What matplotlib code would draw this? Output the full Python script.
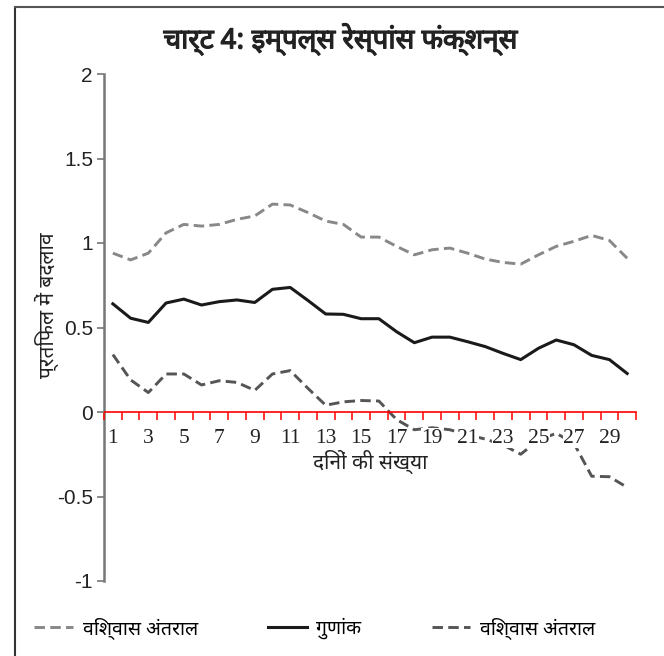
import matplotlib
matplotlib.use('Agg')
import matplotlib.pyplot as plt
import matplotlib.patheffects as pe
import numpy as np
from matplotlib import font_manager
from matplotlib.ft2font import FT2Font
from matplotlib.lines import Line2D

# data
days = np.arange(1, 31)
upper = [0.94, 0.90, 0.94, 1.06, 1.11, 1.10, 1.11, 1.14, 1.16, 1.23,
         1.225, 1.18, 1.13, 1.11, 1.035, 1.035, 0.98, 0.93, 0.96, 0.97,
         0.94, 0.905, 0.885, 0.875, 0.93, 0.98, 1.01, 1.045, 1.015, 0.91]
coef = [0.64, 0.555, 0.53, 0.645, 0.668, 0.633, 0.653, 0.663, 0.648, 0.726,
        0.737, 0.66, 0.58, 0.578, 0.552, 0.552, 0.475, 0.41, 0.443, 0.443,
        0.416, 0.387, 0.347, 0.31, 0.377, 0.426, 0.398, 0.335, 0.31, 0.228]
lower = [0.34, 0.19, 0.115, 0.225, 0.225, 0.16, 0.185, 0.175, 0.128, 0.225,
         0.245, 0.14, 0.04, 0.06, 0.068, 0.065, -0.045, -0.105, -0.093, -0.105,
         -0.135, -0.16, -0.195, -0.25, -0.166, -0.126, -0.185, -0.38, -0.383, -0.446]
xticklabels = [str(d) for d in days[::2]]
yticks = [-1, -0.5, 0, 0.5, 1, 1.5, 2]
yticklabels = ['-1', '-0.5', '0', '0.5', '1', '1.5', '2']

title = 'चार्ट 4: इम्पल्स रेस्पांस फंक्शन्स'
ylabel = 'प्रतिफल में बदलाव'
xlabel = 'दिनों की संख्या'
names = ['विश्वास अंतराल', 'गुणांक', 'विश्वास अंतराल']


def find_deva():
    found = []
    for f in font_manager.fontManager.ttflist:
        try:
            if 0x0915 in FT2Font(f.fname).get_charmap():
                found.append(f.name)
        except Exception:
            pass
    for pref in ['Noto Sans Devanagari', 'Lohit Devanagari', 'Mukta', 'Hind',
                 'FreeSans', 'Gargi', 'Kalimati']:
        if pref in found:
            return pref
    return found[0] if found else None


deva = find_deva()
hfam = [deva, 'DejaVu Sans'] if deva else ['DejaVu Sans']

fig = plt.figure(figsize=(6.64, 6.56), dpi=100)
ax = fig.add_axes([104 / 664, 1 - 581 / 656, 532 / 664, 507 / 656])

dash = (0, (3.6, 1.8))
ax.plot(days, upper, color='#888888', lw=2.1, ls=dash, label=names[0])
ax.plot(days, coef, color='#1a1a1a', lw=2.2, label=names[1])
ax.plot(days, lower, color='#555555', lw=2.1, ls=dash, label=names[2])

ax.set_xlim(0.5, 30.5)
ax.set_ylim(-1, 2)
ax.set_axisbelow(False)

for s in ['top', 'right']:
    ax.spines[s].set_visible(False)
ax.spines['left'].set_color('#777777')
ax.spines['left'].set_linewidth(1.8)
ax.spines['bottom'].set_position(('data', 0))
ax.spines['bottom'].set_color('red')
ax.spines['bottom'].set_linewidth(1.2)

ax.set_yticks(yticks)
ax.set_yticklabels(yticklabels, family=['Liberation Sans Narrow', 'Liberation Sans'],
                   fontsize=15, color='#222222')
ax.tick_params(axis='y', direction='out', length=5, width=1.2, color='#777777', pad=3)

ax.set_xticks(np.arange(0.5, 31, 1))
ax.set_xticklabels([])
ax.tick_params(axis='x', which='major', direction='out', length=6, width=1.1, color='red')
ax.set_xticks(days[::2], minor=True)
ax.set_xticklabels(xticklabels, minor=True, family='Liberation Serif', fontsize=15.5,
                   color='#222222')
ax.tick_params(axis='x', which='minor', length=0, pad=12)
for lab in ax.get_xticklabels(minor=True):
    lab.set_bbox(dict(facecolor='white', edgecolor='none', pad=0.5))

ax.set_xlabel(xlabel, family=hfam, fontsize=15, color='#222222',
              bbox=dict(facecolor='white', edgecolor='none', pad=0))
ax.xaxis.set_label_coords(0.5, 0.258)
ax.set_ylabel(ylabel, family=hfam, fontsize=15, color='#222222')
ax.yaxis.set_label_coords(-0.085, 0.544)

fig.text(341 / 664, 1 - 40 / 656, title, family=hfam, fontsize=20, fontweight='bold',
         ha='center', va='center', color='#222222',
         path_effects=[pe.withStroke(linewidth=0.9, foreground='#222222')])

fig.legend(loc='center', bbox_to_anchor=(0.474, 1 - 628 / 656), ncol=3, frameon=False,
           prop={'family': hfam, 'size': 14}, handlelength=2.0, columnspacing=3.6,
           handletextpad=0.5)

# frame lines (left and top only)
fig.add_artist(Line2D([15 / 664, 15 / 664], [0, 1 - 6.5 / 656], color='#333333', lw=1.5))
fig.add_artist(Line2D([15 / 664, 1], [1 - 6.5 / 656, 1 - 6.5 / 656], color='#555555', lw=1.5))

fig.savefig('out.png', dpi=100)
